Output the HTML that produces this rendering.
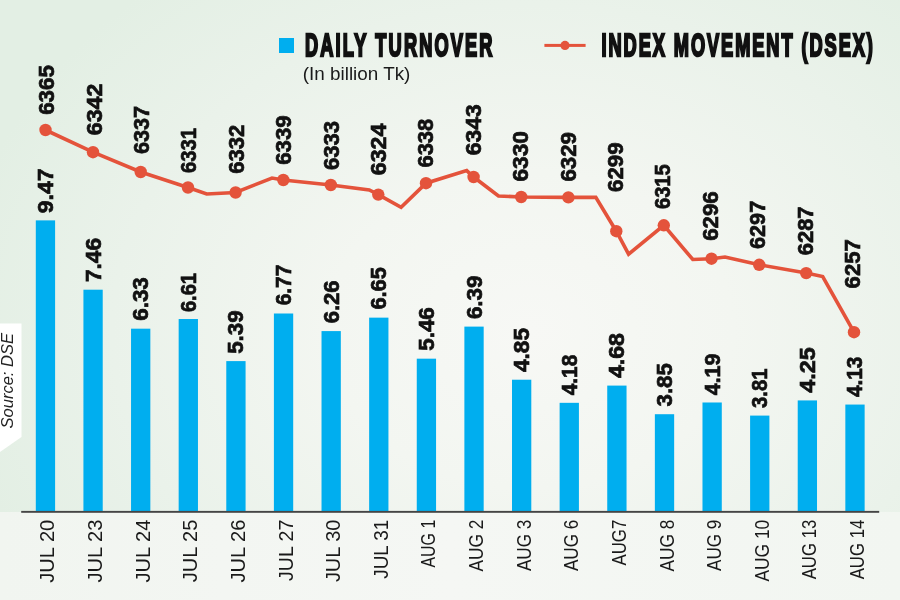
<!DOCTYPE html>
<html><head><meta charset="utf-8"><style>
html,body{margin:0;padding:0;width:900px;height:600px;overflow:hidden;background:#eef3ee;}
svg{display:block;will-change:transform;}
.bl{font-family:"Liberation Sans",sans-serif;font-weight:bold;font-size:22px;fill:#111;stroke:#111;stroke-width:0.7px;}
.dl{font-family:"Liberation Sans",sans-serif;font-size:19.5px;fill:#1a1a1a;}
.lg{font-family:"Liberation Sans",sans-serif;font-weight:bold;font-size:32px;fill:#111;stroke:#111;stroke-width:2.5px;}
.sub{font-family:"Liberation Sans",sans-serif;font-size:18px;fill:#1a1a1a;}
.src{font-family:"Liberation Sans",sans-serif;font-style:italic;font-size:16.5px;fill:#222;}
</style></head><body>
<svg width="900" height="600" viewBox="0 0 900 600">
<defs>
<radialGradient id="bg" cx="530" cy="330" r="580" gradientUnits="userSpaceOnUse" gradientTransform="translate(530 330) scale(1 0.78) translate(-530 -330)">
<stop offset="0" stop-color="#f7f8f5"/>
<stop offset="0.35" stop-color="#f3f6f1"/>
<stop offset="0.72" stop-color="#eaf2ea"/>
<stop offset="1" stop-color="#e3efe4"/>
</radialGradient>
<linearGradient id="bot" x1="0" y1="0" x2="1" y2="0">
<stop offset="0" stop-color="#f1f5f0"/>
<stop offset="0.5" stop-color="#f5f7f4"/>
<stop offset="1" stop-color="#f2f6f1"/>
</linearGradient>
</defs>
<rect x="0" y="0" width="900" height="600" fill="url(#bg)"/>
<rect x="0" y="512" width="900" height="88" fill="url(#bot)"/>
<polygon points="0,323.5 21.5,323.5 21.5,437 0,452" fill="#ffffff"/>
<text class="src" transform="translate(12.8,428.5) rotate(-90)" textLength="95.5" lengthAdjust="spacingAndGlyphs">Source: DSE</text>
<rect x="279" y="38" width="15" height="15" fill="#00aeef"/>
<text class="lg" transform="translate(305,55.8) scale(0.57,1)" textLength="328.8" lengthAdjust="spacing">DAILY TURNOVER</text>
<text class="sub" x="302.8" y="79.7" textLength="107.6" lengthAdjust="spacingAndGlyphs">(In billion Tk)</text>
<rect x="544.4" y="43.9" width="41.2" height="3" fill="#e4533b"/>
<circle cx="565" cy="45.4" r="4.6" fill="#e4533b"/>
<text class="lg" transform="translate(601.5,55.8) scale(0.57,1)" textLength="476.1" lengthAdjust="spacing">INDEX MOVEMENT (DSEX)</text>
<rect x="35.80" y="220.38" width="19.3" height="291.52" fill="#00aeef"/>
<rect x="83.42" y="289.70" width="19.3" height="222.20" fill="#00aeef"/>
<rect x="131.04" y="328.68" width="19.3" height="183.22" fill="#00aeef"/>
<rect x="178.66" y="319.02" width="19.3" height="192.88" fill="#00aeef"/>
<rect x="226.28" y="361.10" width="19.3" height="150.80" fill="#00aeef"/>
<rect x="273.90" y="313.50" width="19.3" height="198.40" fill="#00aeef"/>
<rect x="321.52" y="331.09" width="19.3" height="180.81" fill="#00aeef"/>
<rect x="369.14" y="317.64" width="19.3" height="194.26" fill="#00aeef"/>
<rect x="416.76" y="358.68" width="19.3" height="153.22" fill="#00aeef"/>
<rect x="464.38" y="326.61" width="19.3" height="185.29" fill="#00aeef"/>
<rect x="512.00" y="379.72" width="19.3" height="132.18" fill="#00aeef"/>
<rect x="559.62" y="402.83" width="19.3" height="109.07" fill="#00aeef"/>
<rect x="607.24" y="385.59" width="19.3" height="126.31" fill="#00aeef"/>
<rect x="654.86" y="414.21" width="19.3" height="97.69" fill="#00aeef"/>
<rect x="702.48" y="402.49" width="19.3" height="109.41" fill="#00aeef"/>
<rect x="750.10" y="415.59" width="19.3" height="96.31" fill="#00aeef"/>
<rect x="797.72" y="400.42" width="19.3" height="111.48" fill="#00aeef"/>
<rect x="845.34" y="404.56" width="19.3" height="107.34" fill="#00aeef"/>
<rect x="21.2" y="510.90" width="858" height="1.9" fill="#454545"/>
<path d="M45.5,130.0 L93.0,152.2 L140.7,172.0 L188.0,187.5 L206.7,194.0 L235.6,192.5 L272.0,178.0 L283.3,180.0 L330.8,185.0 L369.3,190.0 L378.3,194.6 L401.1,207.3 L426.0,183.2 L466.7,170.6 L473.6,177.0 L498.5,196.0 L521.2,197.0 L568.4,197.4 L595.8,197.4 L616.3,231.2 L628.6,254.2 L663.8,225.3 L692.8,259.5 L711.5,258.7 L725.0,257.0 L759.2,264.8 L806.2,273.1 L822.7,276.5 L854.0,332.2" fill="none" stroke="#e4533b" stroke-width="3.6" stroke-linejoin="miter"/>
<circle cx="45.5" cy="130" r="6.2" fill="#e4533b"/>
<circle cx="93" cy="152.2" r="6.2" fill="#e4533b"/>
<circle cx="140.7" cy="172" r="6.2" fill="#e4533b"/>
<circle cx="188" cy="187.5" r="6.2" fill="#e4533b"/>
<circle cx="235.6" cy="192.5" r="6.2" fill="#e4533b"/>
<circle cx="283.3" cy="180" r="6.2" fill="#e4533b"/>
<circle cx="330.8" cy="185" r="6.2" fill="#e4533b"/>
<circle cx="378.3" cy="194.6" r="6.2" fill="#e4533b"/>
<circle cx="426" cy="183.2" r="6.2" fill="#e4533b"/>
<circle cx="473.6" cy="177" r="6.2" fill="#e4533b"/>
<circle cx="521.2" cy="197" r="6.2" fill="#e4533b"/>
<circle cx="568.4" cy="197.4" r="6.2" fill="#e4533b"/>
<circle cx="616.3" cy="231.2" r="6.2" fill="#e4533b"/>
<circle cx="663.8" cy="225.3" r="6.2" fill="#e4533b"/>
<circle cx="711.5" cy="258.7" r="6.2" fill="#e4533b"/>
<circle cx="759.2" cy="264.8" r="6.2" fill="#e4533b"/>
<circle cx="806.2" cy="273.1" r="6.2" fill="#e4533b"/>
<circle cx="854" cy="332.2" r="6.2" fill="#e4533b"/>
<text class="bl" transform="translate(52.95,213.30) rotate(-90)" textLength="44.8" lengthAdjust="spacingAndGlyphs">9.47</text>
<text class="bl" transform="translate(100.57,282.05) rotate(-90)" textLength="44.1" lengthAdjust="spacingAndGlyphs">7.46</text>
<text class="bl" transform="translate(148.19,320.80) rotate(-90)" textLength="43.6" lengthAdjust="spacingAndGlyphs">6.33</text>
<text class="bl" transform="translate(195.81,312.05) rotate(-90)" textLength="39.1" lengthAdjust="spacingAndGlyphs">6.61</text>
<text class="bl" transform="translate(243.43,353.80) rotate(-90)" textLength="43.4" lengthAdjust="spacingAndGlyphs">5.39</text>
<text class="bl" transform="translate(291.05,305.30) rotate(-90)" textLength="40.6" lengthAdjust="spacingAndGlyphs">6.77</text>
<text class="bl" transform="translate(338.67,323.30) rotate(-90)" textLength="42.9" lengthAdjust="spacingAndGlyphs">6.26</text>
<text class="bl" transform="translate(386.29,309.55) rotate(-90)" textLength="42.4" lengthAdjust="spacingAndGlyphs">6.65</text>
<text class="bl" transform="translate(433.91,350.80) rotate(-90)" textLength="43.6" lengthAdjust="spacingAndGlyphs">5.46</text>
<text class="bl" transform="translate(481.53,319.10) rotate(-90)" textLength="43.6" lengthAdjust="spacingAndGlyphs">6.39</text>
<text class="bl" transform="translate(529.15,372.05) rotate(-90)" textLength="44.1" lengthAdjust="spacingAndGlyphs">4.85</text>
<text class="bl" transform="translate(576.77,395.30) rotate(-90)" textLength="40.6" lengthAdjust="spacingAndGlyphs">4.18</text>
<text class="bl" transform="translate(624.39,378.10) rotate(-90)" textLength="45.1" lengthAdjust="spacingAndGlyphs">4.68</text>
<text class="bl" transform="translate(672.01,406.40) rotate(-90)" textLength="43.2" lengthAdjust="spacingAndGlyphs">3.85</text>
<text class="bl" transform="translate(719.63,395.20) rotate(-90)" textLength="41.6" lengthAdjust="spacingAndGlyphs">4.19</text>
<text class="bl" transform="translate(767.25,407.90) rotate(-90)" textLength="39.4" lengthAdjust="spacingAndGlyphs">3.81</text>
<text class="bl" transform="translate(814.87,392.80) rotate(-90)" textLength="45.6" lengthAdjust="spacingAndGlyphs">4.25</text>
<text class="bl" transform="translate(862.49,397.10) rotate(-90)" textLength="40.4" lengthAdjust="spacingAndGlyphs">4.13</text>
<text class="bl" transform="translate(54.10,114.80) rotate(-90)" textLength="49.6" lengthAdjust="spacingAndGlyphs">6365</text>
<text class="bl" transform="translate(101.51,135.20) rotate(-90)" textLength="51.6" lengthAdjust="spacingAndGlyphs">6342</text>
<text class="bl" transform="translate(148.92,154.10) rotate(-90)" textLength="48.2" lengthAdjust="spacingAndGlyphs">6337</text>
<text class="bl" transform="translate(196.33,173.00) rotate(-90)" textLength="44.9" lengthAdjust="spacingAndGlyphs">6331</text>
<text class="bl" transform="translate(243.74,173.70) rotate(-90)" textLength="48.9" lengthAdjust="spacingAndGlyphs">6332</text>
<text class="bl" transform="translate(291.15,164.80) rotate(-90)" textLength="49.4" lengthAdjust="spacingAndGlyphs">6339</text>
<text class="bl" transform="translate(338.56,170.10) rotate(-90)" textLength="49.1" lengthAdjust="spacingAndGlyphs">6333</text>
<text class="bl" transform="translate(385.97,175.20) rotate(-90)" textLength="51.6" lengthAdjust="spacingAndGlyphs">6324</text>
<text class="bl" transform="translate(433.38,167.50) rotate(-90)" textLength="48.7" lengthAdjust="spacingAndGlyphs">6338</text>
<text class="bl" transform="translate(480.79,155.20) rotate(-90)" textLength="50.9" lengthAdjust="spacingAndGlyphs">6343</text>
<text class="bl" transform="translate(528.20,181.50) rotate(-90)" textLength="50.5" lengthAdjust="spacingAndGlyphs">6330</text>
<text class="bl" transform="translate(575.61,181.50) rotate(-90)" textLength="49.4" lengthAdjust="spacingAndGlyphs">6329</text>
<text class="bl" transform="translate(623.02,191.90) rotate(-90)" textLength="49.4" lengthAdjust="spacingAndGlyphs">6299</text>
<text class="bl" transform="translate(670.43,209.00) rotate(-90)" textLength="44.7" lengthAdjust="spacingAndGlyphs">6315</text>
<text class="bl" transform="translate(717.84,240.80) rotate(-90)" textLength="49.4" lengthAdjust="spacingAndGlyphs">6296</text>
<text class="bl" transform="translate(765.25,249.00) rotate(-90)" textLength="48.2" lengthAdjust="spacingAndGlyphs">6297</text>
<text class="bl" transform="translate(812.66,255.20) rotate(-90)" textLength="48.7" lengthAdjust="spacingAndGlyphs">6287</text>
<text class="bl" transform="translate(860.07,288.40) rotate(-90)" textLength="49.3" lengthAdjust="spacingAndGlyphs">6257</text>
<text class="dl" transform="translate(54.45,582.80) rotate(-90)" textLength="63.1" lengthAdjust="spacingAndGlyphs">JUL 20</text>
<text class="dl" transform="translate(102.07,582.50) rotate(-90)" textLength="62.8" lengthAdjust="spacingAndGlyphs">JUL 23</text>
<text class="dl" transform="translate(149.69,582.50) rotate(-90)" textLength="62.8" lengthAdjust="spacingAndGlyphs">JUL 24</text>
<text class="dl" transform="translate(197.31,582.30) rotate(-90)" textLength="62.6" lengthAdjust="spacingAndGlyphs">JUL 25</text>
<text class="dl" transform="translate(244.93,582.60) rotate(-90)" textLength="62.9" lengthAdjust="spacingAndGlyphs">JUL 26</text>
<text class="dl" transform="translate(292.55,580.90) rotate(-90)" textLength="61.2" lengthAdjust="spacingAndGlyphs">JUL 27</text>
<text class="dl" transform="translate(340.17,582.10) rotate(-90)" textLength="62.4" lengthAdjust="spacingAndGlyphs">JUL 30</text>
<text class="dl" transform="translate(387.79,578.70) rotate(-90)" textLength="59.0" lengthAdjust="spacingAndGlyphs">JUL 31</text>
<text class="dl" transform="translate(435.41,567.50) rotate(-90)" textLength="47.8" lengthAdjust="spacingAndGlyphs">AUG 1</text>
<text class="dl" transform="translate(483.03,571.60) rotate(-90)" textLength="51.9" lengthAdjust="spacingAndGlyphs">AUG 2</text>
<text class="dl" transform="translate(530.65,571.10) rotate(-90)" textLength="51.4" lengthAdjust="spacingAndGlyphs">AUG 3</text>
<text class="dl" transform="translate(578.27,571.10) rotate(-90)" textLength="51.4" lengthAdjust="spacingAndGlyphs">AUG 6</text>
<text class="dl" transform="translate(625.89,565.60) rotate(-90)" textLength="45.9" lengthAdjust="spacingAndGlyphs">AUG7</text>
<text class="dl" transform="translate(673.51,571.50) rotate(-90)" textLength="51.8" lengthAdjust="spacingAndGlyphs">AUG 8</text>
<text class="dl" transform="translate(721.13,570.90) rotate(-90)" textLength="51.2" lengthAdjust="spacingAndGlyphs">AUG 9</text>
<text class="dl" transform="translate(768.75,581.60) rotate(-90)" textLength="61.9" lengthAdjust="spacingAndGlyphs">AUG 10</text>
<text class="dl" transform="translate(816.37,579.30) rotate(-90)" textLength="59.6" lengthAdjust="spacingAndGlyphs">AUG 13</text>
<text class="dl" transform="translate(863.99,579.30) rotate(-90)" textLength="59.6" lengthAdjust="spacingAndGlyphs">AUG 14</text>
</svg>
</body></html>
